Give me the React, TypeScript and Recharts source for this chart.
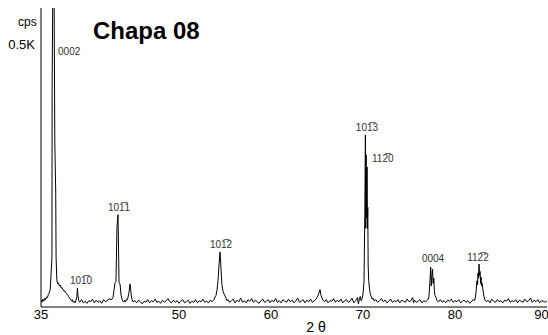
import { LineChart, Line, XAxis, YAxis, ReferenceDot } from 'recharts'

const FONT = '"Liberation Sans", Arial, sans-serif'
const NARROW = '"Liberation Sans Narrow", "Arial Narrow", "Liberation Sans", sans-serif'

const TWO_THETA_TICKS = [35, 50, 60, 70, 80, 90]
const CPS_TICKS = [500]

// [2θ, cps], split in three stretches
const scanLow: [number, number][] = [
  [35.0, 13], [35.1, 9], [35.2, 15], [35.3, 11], [35.4, 17], [35.5, 14], [35.6, 19], [35.7, 18],
  [35.8, 24], [35.9, 27], [36.0, 33], [36.09, 61], [36.19, 95], [36.21, 424], [36.3, 640],
  [36.41, 640], [36.5, 315], [36.6, 219], [36.64, 95], [36.72, 52], [36.8, 44], [36.9, 46],
  [37.0, 40], [37.1, 42], [37.2, 36], [37.3, 37], [37.4, 33], [37.5, 30], [37.6, 31], [37.7, 27],
  [37.8, 25], [37.9, 23], [38.0, 20], [38.1, 17], [38.2, 15], [38.3, 12], [38.4, 14], [38.5, 9],
  [38.6, 11], [38.7, 8], [38.8, 13], [38.9, 20], [38.96, 36], [39.02, 22], [39.1, 12], [39.2, 9],
  [39.4, 14], [39.6, 8], [39.8, 11], [40.0, 7], [40.2, 12], [40.4, 10], [40.6, 15], [40.8, 8],
  [41.0, 13], [41.2, 9], [41.4, 12], [41.6, 7], [41.8, 14], [42.0, 10], [42.2, 12], [42.4, 16],
  [42.6, 14], [42.72, 15], [42.83, 18], [42.93, 32], [43.04, 46], [43.15, 48], [43.26, 153],
  [43.37, 176], [43.43, 110], [43.48, 46], [43.59, 44], [43.7, 23], [43.8, 15], [43.9, 11],
  [44.0, 9], [44.1, 13], [44.2, 10], [44.3, 15], [44.4, 14], [44.46, 19], [44.57, 28],
  [44.67, 44], [44.73, 38], [44.8, 23], [44.9, 14], [45.0, 10],
]

const scanMid: [number, number][] = [
  [45.2, 12], [45.4, 8], [45.6, 13], [45.8, 10], [46.0, 6], [46.2, 11], [46.4, 9], [46.6, 14],
  [46.8, 8], [47.0, 12], [47.2, 10], [47.4, 15], [47.6, 9], [47.8, 11], [48.0, 7], [48.2, 13],
  [48.4, 9], [48.6, 12], [48.8, 16], [49.0, 10], [49.2, 8], [49.4, 13], [49.6, 9], [49.8, 12],
  [50.0, 7], [50.2, 11], [50.4, 14], [50.6, 8], [50.8, 10], [51.0, 13], [51.2, 7], [51.4, 11],
  [51.6, 9], [51.8, 14], [52.0, 8], [52.2, 12], [52.4, 10], [52.6, 15], [52.8, 9], [53.0, 11],
  [53.2, 8], [53.4, 13], [53.6, 10], [53.8, 14], [53.91, 19], [54.02, 22], [54.13, 32],
  [54.24, 50], [54.35, 80], [54.46, 105], [54.5, 95], [54.57, 71], [54.67, 42], [54.78, 30],
  [54.89, 25], [55.0, 21], [55.11, 17], [55.22, 12], [55.33, 14], [55.5, 9], [55.7, 12],
  [55.9, 15], [56.1, 8], [56.3, 13], [56.5, 10], [56.7, 17], [56.9, 9], [57.1, 12], [57.3, 8],
  [57.5, 14], [57.7, 11], [57.9, 16], [58.1, 9], [58.3, 13], [58.5, 10], [58.7, 7], [58.9, 12],
  [59.1, 15], [59.3, 9], [59.5, 11], [59.7, 14], [59.9, 8], [60.1, 13], [60.3, 10], [60.5, 16],
  [60.7, 9], [60.9, 12], [61.1, 8], [61.3, 14], [61.5, 11], [61.7, 9], [61.9, 15], [62.1, 10],
  [62.3, 13], [62.5, 8], [62.7, 12], [62.9, 17], [63.1, 9], [63.3, 11], [63.5, 14], [63.7, 8],
  [63.9, 13], [64.1, 10], [64.3, 15], [64.5, 9], [64.7, 12], [64.9, 15],
]

const scanHigh: [number, number][] = [
  [65.0, 18], [65.1, 21], [65.2, 26], [65.33, 33], [65.44, 22], [65.55, 17], [65.66, 13],
  [65.8, 10], [66.0, 14], [66.2, 8], [66.4, 12], [66.6, 11], [66.8, 16], [67.0, 9], [67.2, 13],
  [67.4, 10], [67.6, 15], [67.8, 8], [68.0, 12], [68.2, 14], [68.4, 9], [68.6, 11], [68.8, 17],
  [69.0, 8], [69.2, 12], [69.4, 18], [69.5, 6], [69.6, 15], [69.7, 20], [69.8, 12], [69.9, 16],
  [70.0, 25], [70.11, 48], [70.2, 180], [70.26, 328], [70.3, 150], [70.34, 290], [70.38, 170],
  [70.42, 262], [70.45, 267], [70.48, 150], [70.52, 190], [70.56, 80], [70.62, 50], [70.7, 36],
  [70.8, 24], [70.9, 20], [71.0, 15], [71.1, 17], [71.2, 12], [71.4, 14], [71.6, 9], [71.8, 12],
  [72.0, 16], [72.2, 10], [72.4, 13], [72.6, 8], [72.8, 11], [73.0, 15], [73.2, 9], [73.4, 12],
  [73.6, 10], [73.8, 14], [74.0, 8], [74.2, 13], [74.4, 11], [74.6, 9], [74.8, 15], [75.0, 10],
  [75.2, 12], [75.4, 18], [75.5, 8], [75.6, 13], [75.8, 9], [76.0, 11], [76.2, 14], [76.4, 8],
  [76.6, 12], [76.8, 10], [77.0, 13], [77.1, 15], [77.17, 20], [77.28, 50], [77.36, 76],
  [77.42, 40], [77.5, 62], [77.56, 72], [77.62, 45], [77.7, 55], [77.76, 30], [77.83, 22],
  [77.93, 18], [78.04, 12], [78.2, 10], [78.4, 14], [78.6, 9], [78.8, 12], [79.0, 8], [79.2, 13],
  [79.4, 11], [79.6, 15], [79.8, 9], [80.0, 12], [80.2, 10], [80.4, 14], [80.6, 8], [80.8, 11],
  [81.0, 13], [81.2, 9], [81.4, 12], [81.6, 7], [81.8, 11], [82.0, 14], [82.1, 12], [82.2, 17],
  [82.28, 27], [82.39, 50], [82.45, 42], [82.5, 65], [82.56, 55], [82.61, 82], [82.67, 60],
  [82.72, 68], [82.78, 45], [82.83, 57], [82.88, 40], [82.93, 46], [83.04, 32], [83.15, 20],
  [83.26, 13], [83.4, 10], [83.6, 13], [83.8, 8], [84.0, 15], [84.2, 11], [84.4, 9], [84.6, 14],
  [84.8, 10], [85.0, 12], [85.2, 8], [85.4, 13], [85.6, 11], [85.8, 16], [86.0, 9], [86.2, 12],
  [86.4, 10], [86.6, 14], [86.8, 8], [87.0, 13], [87.2, 11], [87.4, 9], [87.6, 15], [87.8, 10],
  [88.0, 12], [88.2, 17], [88.4, 9], [88.6, 13], [88.8, 10], [89.0, 14], [89.2, 8], [89.4, 12],
  [89.6, 11], [89.8, 9], [90.0, 12],
]

// Miller-Bravais indices, combining overline on the negative index
const peakLabels: { text: string; x: number; y: number; anchor: 'start' | 'middle' }[] = [
  { text: '0002', x: 36.85, y: 487, anchor: 'start' },
  { text: '101\u03050', x: 39.35, y: 50, anchor: 'middle' },
  { text: '101\u03051', x: 43.48, y: 189, anchor: 'middle' },
  { text: '101\u03052', x: 54.57, y: 120, anchor: 'middle' },
  { text: '101\u03053', x: 70.43, y: 342, anchor: 'middle' },
  { text: '112\u03050', x: 70.98, y: 284, anchor: 'start' },
  { text: '0004', x: 77.61, y: 93, anchor: 'middle' },
  { text: '112\u03052', x: 82.5, y: 95, anchor: 'middle' },
]

const data = [...scanLow, ...scanMid, ...scanHigh].map(([x, y]) => ({ x, y }))

export default function App() {
  return (
    <div style={{ position: 'absolute', left: 0, top: 0, width: 548, height: 335, background: '#fff' }}>
      <LineChart width={548} height={335} data={data} margin={{ top: 8, right: 1, bottom: 0, left: 0 }}>
        <XAxis
          dataKey="x"
          type="number"
          domain={[35, 90]}
          ticks={TWO_THETA_TICKS}
          allowDataOverflow
          height={28}
          tickSize={0}
          tickMargin={3}
          axisLine={{ stroke: '#000' }}
          tick={{ fontSize: 13, fill: '#000', fontFamily: FONT }}
        />
        <XAxis xAxisId="top" orientation="top" type="number" domain={[35, 90]} height={0} tick={false} tickLine={false} axisLine={{ stroke: '#555' }} />
        <YAxis
          type="number"
          domain={[0, 570]}
          ticks={CPS_TICKS}
          allowDataOverflow
          width={41}
          tickSize={0}
          tickMargin={6}
          tickFormatter={v => `${v / 1000}K`}
          axisLine={{ stroke: '#000' }}
          tick={{ fontSize: 13, fill: '#000', fontFamily: FONT }}
        />
        <YAxis yAxisId="right" orientation="right" width={0} tick={false} tickLine={false} axisLine={{ stroke: '#333' }} />
        <Line
          dataKey="y"
          type="linear"
          stroke="#000"
          strokeWidth={1}
          dot={false}
          isAnimationActive={false}
        />
        {peakLabels.map(p => (
          <ReferenceDot
            key={p.text}
            x={p.x}
            y={p.y}
            r={0}
            ifOverflow="visible"
            shape={(props: any) => (
              <text
                x={props.cx}
                y={props.cy}
                dy="0.35em"
                textAnchor={p.anchor}
                fontSize={10}
                fontFamily={NARROW}
                fill="#333"
              >
                {p.text}
              </text>
            )}
          />
        ))}
      </LineChart>
      <svg width={548} height={335} style={{ position: 'absolute', left: 0, top: 0, pointerEvents: 'none' }}>
        <text x={18} y={26} fontSize={12} fontFamily={FONT} fill="#000">cps</text>
        <text x={93} y={39} fontSize={24} fontWeight="bold" fontFamily={FONT} fill="#000">Chapa 08</text>
        <text x={316} y={332} textAnchor="middle" fontSize={14} fontFamily={FONT} fill="#000">2 θ</text>
      </svg>
    </div>
  )
}
